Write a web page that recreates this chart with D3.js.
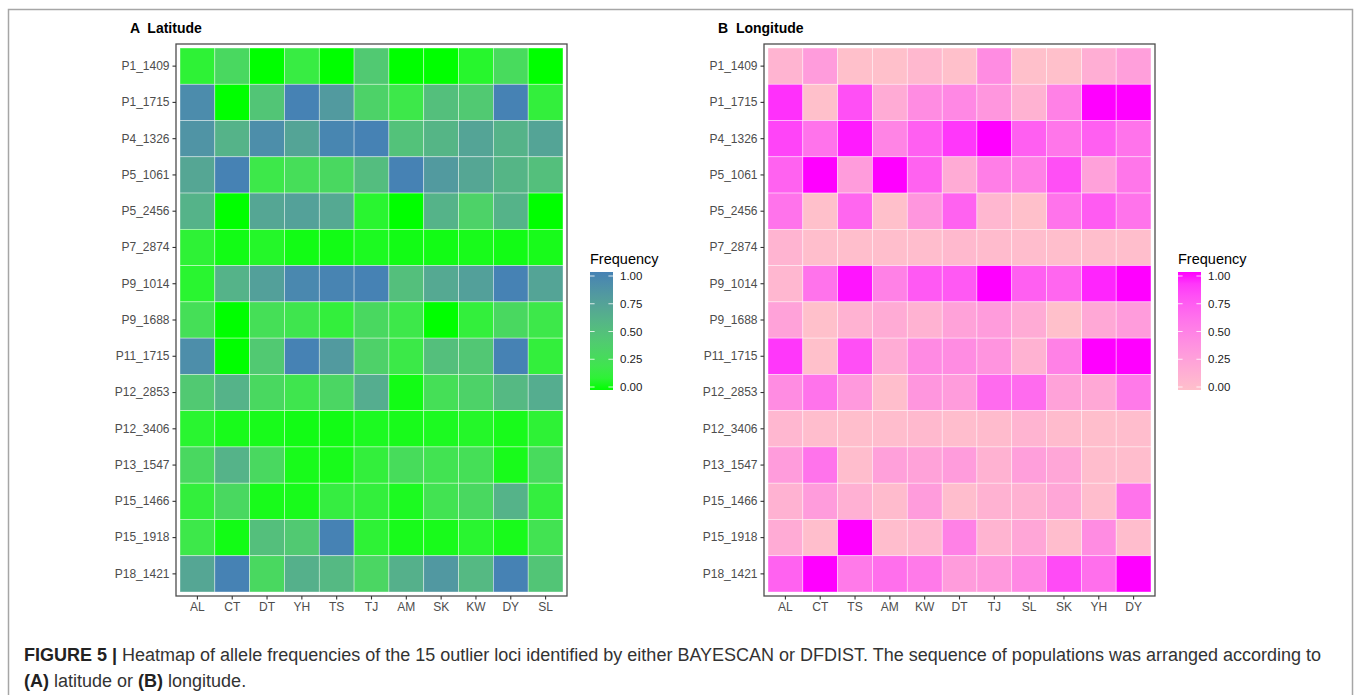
<!DOCTYPE html>
<html>
<head>
<meta charset="utf-8">
<script src="https://cdn.jsdelivr.net/npm/d3@7"></script>
<style>
  body { margin: 0; background: #fff; }
  svg text { font-family: "Liberation Sans", Arial, sans-serif; }
</style>
</head>
<body>
<div id="figure"></div>
<script>
// loci shown on the y axis (top to bottom)
var loci = ["P1_1409", "P1_1715", "P4_1326", "P5_1061", "P5_2456", "P7_2874", "P9_1014",
            "P9_1688", "P11_1715", "P12_2853", "P12_3406", "P13_1547", "P15_1466", "P15_1918", "P18_1421"];

// populations, sorted by latitude (panel A) and by longitude (panel B)
var latitudeOrder = ["AL", "CT", "DT", "YH", "TS", "TJ", "AM", "SK", "KW", "DY", "SL"];
var longitudeOrder = ["AL", "CT", "TS", "AM", "KW", "DT", "TJ", "SL", "SK", "YH", "DY"];

// allele frequency, one row per locus, columns in latitudeOrder
var freq = [
  [0.10, 0.30, 0.00, 0.15, 0.00, 0.42, 0.00, 0.00, 0.07, 0.28, 0.00],
  [0.92, 0.00, 0.45, 1.00, 0.80, 0.35, 0.18, 0.50, 0.42, 1.00, 0.12],
  [0.85, 0.60, 0.90, 0.72, 0.97, 1.00, 0.48, 0.58, 0.72, 0.60, 0.72],
  [0.70, 1.00, 0.18, 0.26, 0.30, 0.52, 1.00, 0.80, 0.70, 0.58, 0.50],
  [0.60, 0.00, 0.70, 0.74, 0.68, 0.08, 0.00, 0.60, 0.35, 0.60, 0.00],
  [0.10, 0.02, 0.06, 0.02, 0.02, 0.04, 0.02, 0.02, 0.03, 0.02, 0.03],
  [0.08, 0.60, 0.75, 0.95, 0.98, 1.00, 0.50, 0.68, 0.75, 1.00, 0.72],
  [0.25, 0.00, 0.25, 0.20, 0.12, 0.30, 0.18, 0.00, 0.12, 0.30, 0.18],
  [0.90, 0.00, 0.42, 1.00, 0.80, 0.36, 0.17, 0.50, 0.44, 1.00, 0.12],
  [0.42, 0.60, 0.30, 0.20, 0.32, 0.65, 0.02, 0.25, 0.35, 0.55, 0.65],
  [0.08, 0.03, 0.03, 0.02, 0.02, 0.04, 0.03, 0.04, 0.06, 0.03, 0.10],
  [0.30, 0.60, 0.30, 0.03, 0.03, 0.12, 0.27, 0.22, 0.25, 0.03, 0.28],
  [0.12, 0.30, 0.03, 0.03, 0.14, 0.12, 0.04, 0.22, 0.30, 0.60, 0.13],
  [0.18, 0.02, 0.50, 0.42, 1.00, 0.10, 0.03, 0.03, 0.08, 0.03, 0.22],
  [0.70, 1.00, 0.30, 0.62, 0.55, 0.32, 0.62, 0.82, 0.55, 1.00, 0.45]
];

var legendTicks = [0, 0.25, 0.5, 0.75, 1];

var width = 1355, height = 695;

var svg = d3.select("#figure").append("svg")
    .attr("width", width)
    .attr("height", height);

// thin grey frame around the figure
svg.append("path")
    .attr("d", "M8.5,695V9.5H1352.5V695")
    .attr("fill", "none")
    .attr("stroke", "#a6a6a6")
    .attr("stroke-width", 1.5);

// flatten the matrix into cells
var cells = [];
loci.forEach(function (locus, i) {
  latitudeOrder.forEach(function (pop, j) {
    cells.push({locus: locus, pop: pop, value: freq[i][j]});
  });
});

/**
 * Draws one heatmap panel with its colour bar
 */
function drawPanel(offsetX, tag, title, order, lowColor, highColor) {
  var g = svg.append("g").attr("transform", "translate(" + offsetX + ",0)");
  var panel = {left: 176, right: 567, top: 44, bottom: 596, pad: 4};

  var x = d3.scaleBand().domain(order)
      .range([panel.left + panel.pad, panel.right - panel.pad]);
  var y = d3.scaleBand().domain(loci)
      .range([panel.top + panel.pad, panel.bottom - panel.pad]);
  var color = d3.scaleLinear().domain([0, 1])
      .range([lowColor, highColor])
      .interpolate(d3.interpolateLab);

  //tiles
  g.selectAll("rect.tile")
      .data(cells)
      .enter()
      .append("rect")
      .attr("class", "tile")
      .attr("x", d => x(d.pop))
      .attr("y", d => y(d.locus))
      .attr("width", x.bandwidth())
      .attr("height", y.bandwidth())
      .attr("fill", d => color(d.value))
      .attr("stroke", "rgba(255,255,255,0.55)")
      .attr("stroke-width", 0.7);

  // panel border
  g.append("rect")
      .attr("x", panel.left)
      .attr("y", panel.top)
      .attr("width", panel.right - panel.left)
      .attr("height", panel.bottom - panel.top)
      .attr("fill", "none")
      .attr("stroke", "#4d4d4d")
      .attr("stroke-width", 1.3);

  var xAxis = g.append("g")
      .attr("transform", "translate(0," + panel.bottom + ")")
      .call(d3.axisBottom(x).tickSize(3.5).tickPadding(3));
  var yAxis = g.append("g")
      .attr("transform", "translate(" + panel.left + ",0)")
      .call(d3.axisLeft(y).tickSize(3.5).tickPadding(3));
  [xAxis, yAxis].forEach(function (ax) {
    ax.select(".domain").remove();
    ax.selectAll(".tick line").attr("stroke", "#333").attr("stroke-width", 1.1);
    ax.selectAll(".tick text")
        .attr("fill", "#4d4d4d")
        .style("font-size", "12px")
        .style("font-family", "Liberation Sans, Arial, sans-serif");
  });

  // panel title
  g.append("text")
      .attr("x", 130)
      .attr("y", 33)
      .style("font-size", "14px")
      .style("font-weight", "bold")
      .attr("fill", "#000")
      .attr("xml:space", "preserve")
      .text(tag + "  " + title);

  // legend
  var bar = {x: 590, w: 23, top: 272, bottom: 390};
  var ly = d3.scaleLinear().domain([0, 1]).range([387, 276]);
  var gradId = "grad" + tag;
  var grad = svg.append("defs").append("linearGradient")
      .attr("id", gradId)
      .attr("x1", 0).attr("y1", 1).attr("x2", 0).attr("y2", 0);
  d3.range(0, 1.01, 0.1).forEach(function (t) {
    grad.append("stop").attr("offset", t).attr("stop-color", color(t));
  });

  g.append("text")
      .attr("x", bar.x)
      .attr("y", 264)
      .style("font-size", "14.5px")
      .attr("fill", "#000")
      .text("Frequency");

  g.append("rect")
      .attr("x", bar.x)
      .attr("y", bar.top)
      .attr("width", bar.w)
      .attr("height", bar.bottom - bar.top)
      .attr("fill", "url(#" + gradId + ")");

  var lt = g.selectAll("g.ltick")
      .data(legendTicks)
      .enter()
      .append("g")
      .attr("class", "ltick")
      .attr("transform", d => "translate(0," + ly(d) + ")");
  lt.append("line")
      .attr("x1", bar.x).attr("x2", bar.x + 4.6)
      .attr("stroke", "#fff").attr("stroke-width", 0.8);
  lt.append("line")
      .attr("x1", bar.x + bar.w - 4.6).attr("x2", bar.x + bar.w)
      .attr("stroke", "#fff").attr("stroke-width", 0.8);
  lt.append("text")
      .attr("x", bar.x + bar.w + 7)
      .attr("dy", "0.35em")
      .style("font-size", "11.5px")
      .attr("fill", "#1a1a1a")
      .text(d => d3.format(".2f")(d));
}

drawPanel(0, "A", "Latitude", latitudeOrder, "#00ff00", "steelblue");
drawPanel(588, "B", "Longitude", longitudeOrder, "pink", "magenta");

// caption
var caption = svg.append("g")
    .style("font-size", "18px")
    .attr("fill", "#333");
var line1 = caption.append("text").attr("x", 24).attr("y", 661).attr("xml:space", "preserve");
line1.append("tspan").style("font-weight", "bold").attr("fill", "#222").text("FIGURE 5 | ");
line1.append("tspan").text("Heatmap of allele frequencies of the 15 outlier loci identified by either BAYESCAN or DFDIST. The sequence of populations was arranged according to");
var line2 = caption.append("text").attr("x", 24).attr("y", 687).attr("xml:space", "preserve");
line2.append("tspan").style("font-weight", "bold").attr("fill", "#222").text("(A)");
line2.append("tspan").text(" latitude or ");
line2.append("tspan").style("font-weight", "bold").attr("fill", "#222").text("(B)");
line2.append("tspan").text(" longitude.");
</script>
</body>
</html>
